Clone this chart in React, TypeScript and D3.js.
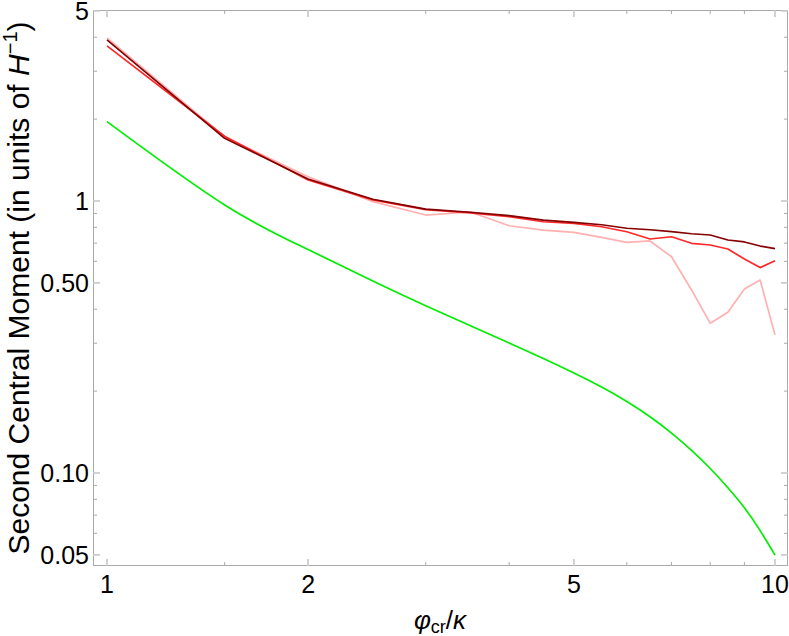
import React from "react";
import * as d3 from "d3";

const xValues = [1, 1.5, 2, 2.5, 3, 3.5, 4, 4.5, 5, 5.5, 6, 6.5, 7, 7.5, 8, 8.5, 9, 9.5, 10];
const darkRedSeries = [3.91, 1.70, 1.205, 1.015, 0.934, 0.909, 0.883, 0.851, 0.835, 0.818, 0.794, 0.784, 0.771, 0.758, 0.750, 0.719, 0.707, 0.683, 0.668];
const redSeries = [3.72, 1.73, 1.195, 1.01, 0.93, 0.905, 0.876, 0.839, 0.828, 0.804, 0.771, 0.725, 0.739, 0.699, 0.689, 0.666, 0.612, 0.569, 0.603];
const pinkSeries = [3.98, 1.72, 1.228, 0.995, 0.888, 0.911, 0.811, 0.782, 0.767, 0.735, 0.705, 0.713, 0.624, 0.471, 0.355, 0.390, 0.475, 0.512, 0.322];
const greenSeries = [1.957, 0.967, 0.663, 0.508, 0.412, 0.348, 0.3005, 0.2636, 0.2332, 0.2071, 0.1832, 0.161, 0.1402, 0.1211, 0.1039, 0.0883, 0.0745, 0.0614, 0.0499];

const xMajorTicks = [1, 2, 5, 10];
const xTickLabels = ["1", "2", "5", "10"];
const xMinorTicks = [1.5, 3, 4, 6, 7, 8, 9];
const yMajorTicks = [0.05, 0.1, 0.5, 1, 5];
const yTickLabels = ["0.05", "0.10", "0.50", "1", "5"];
const yMinorTicks = [0.06, 0.07, 0.08, 0.09, 0.2, 0.3, 0.4, 0.6, 0.7, 0.8, 0.9, 2, 3, 4];

const W = 789;
const H = 636;
const left = 93;
const right = 788;
const top = 10;
const bottom = 566;

const FONT = "'Liberation Sans', Arial, sans-serif";

export default function App() {
  const x = d3.scaleLog().domain([1, 10]).range([107, 775]);
  const y = d3.scaleLog().domain([0.1, 1]).range([473, 201]);

  const polyline = d3
    .line<number>()
    .x((_, i) => x(xValues[i]))
    .y((d) => y(d));
  const smooth = d3
    .line<number>()
    .x((_, i) => x(xValues[i]))
    .y((d) => y(d))
    .curve(d3.curveNatural);

  const tickColor = "#aaaaaa";
  const majorLen = 7;
  const minorLen = 4;

  return (
    <svg
      width={W}
      height={H}
      style={{ position: "absolute", left: 0, top: 0, background: "#fff" }}
      fontFamily={FONT}
    >
      <rect x={0} y={0} width={W} height={H} fill="#fff" />
      {/* frame */}
      <rect
        x={left + 0.5}
        y={top + 0.5}
        width={right - left - 1}
        height={bottom - top - 1}
        fill="none"
        stroke={tickColor}
        strokeWidth={1}
      />
      {/* x ticks */}
      {xMajorTicks.map((t) => (
        <g key={"xM" + t}>
          <line x1={x(t)} x2={x(t)} y1={bottom} y2={bottom - majorLen} stroke="#c8c8c8" strokeWidth={1.6} />
          <line x1={x(t)} x2={x(t)} y1={top} y2={top + majorLen} stroke="#c8c8c8" strokeWidth={1.6} />
        </g>
      ))}
      {xMinorTicks.map((t) => (
        <g key={"xm" + t}>
          <line x1={x(t)} x2={x(t)} y1={bottom} y2={bottom - minorLen} stroke={tickColor} strokeWidth={1} />
          <line x1={x(t)} x2={x(t)} y1={top} y2={top + minorLen} stroke={tickColor} strokeWidth={1} />
        </g>
      ))}
      {/* y ticks */}
      {yMajorTicks.map((t) => (
        <g key={"yM" + t}>
          <line x1={left} x2={left + majorLen} y1={y(t)} y2={y(t)} stroke="#c8c8c8" strokeWidth={1.6} />
          <line x1={right} x2={right - majorLen} y1={y(t)} y2={y(t)} stroke="#c8c8c8" strokeWidth={1.6} />
        </g>
      ))}
      {yMinorTicks.map((t) => (
        <g key={"ym" + t}>
          <line x1={left} x2={left + minorLen} y1={y(t)} y2={y(t)} stroke={tickColor} strokeWidth={1} />
          <line x1={right} x2={right - minorLen} y1={y(t)} y2={y(t)} stroke={tickColor} strokeWidth={1} />
        </g>
      ))}
      {/* tick labels */}
      {xMajorTicks.map((t, i) => (
        <text key={"xl" + t} x={x(t)} y={593} textAnchor="middle" fontSize={25} fill="#000">
          {xTickLabels[i]}
        </text>
      ))}
      {yMajorTicks.map((t, i) => (
        <text key={"yl" + t} x={89} y={y(t)} dy="0.36em" textAnchor="end" fontSize={25} fill="#000">
          {yTickLabels[i]}
        </text>
      ))}
      {/* series */}
      <g fill="none" strokeLinejoin="round" strokeWidth={1.7}>
        <path d={smooth(greenSeries) || ""} stroke="#00ee00" />
        <path d={polyline(pinkSeries) || ""} stroke="#ffb0b0" />
        <path d={polyline(redSeries) || ""} stroke="#ff2828" />
        <path d={polyline(darkRedSeries) || ""} stroke="#850000" />
      </g>
      {/* axis titles */}
      <text x={440} y={629} textAnchor="middle" fontSize={26} fill="#000">
        <tspan fontStyle="italic">φ</tspan>
        <tspan fontSize={18} dy={4}>cr</tspan>
        <tspan dy={-4}>/</tspan>
        <tspan fontStyle="italic">κ</tspan>
      </text>
      <text
        transform={`translate(29,${(top + bottom) / 2}) rotate(-90)`}
        textAnchor="middle"
        fontSize={30}
        fill="#000"
      >
        Second Central Moment (in units of <tspan fontStyle="italic">H</tspan>
        <tspan fontSize={20} dy={-12}>−1</tspan>
        <tspan dy={12}>)</tspan>
      </text>
    </svg>
  );
}
